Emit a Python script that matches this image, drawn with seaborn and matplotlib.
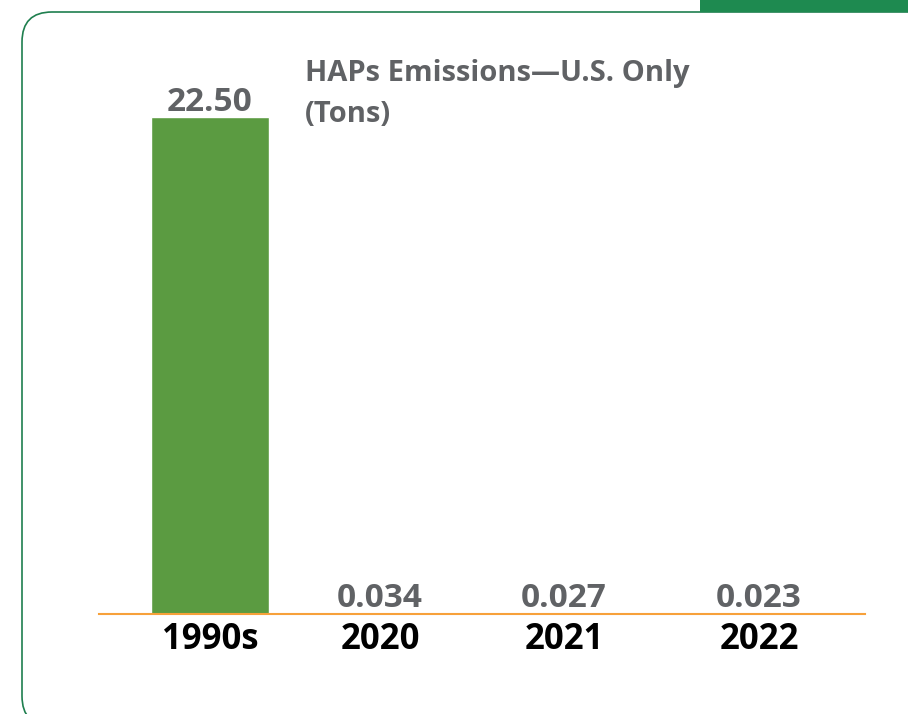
import matplotlib
matplotlib.use("Agg")
import matplotlib.pyplot as plt
from matplotlib.patches import FancyBboxPatch, Rectangle
import pandas as pd
import seaborn as sns

# data
periods = ["1990s", "2020", "2021", "2022"]
emissions = [22.50, 0.034, 0.027, 0.023]
value_labels = ["22.50", "0.034", "0.027", "0.023"]
title_text = "HAPs Emissions\u2014U.S. Only\n(Tons)"

# layout (pixel-like horizontal positions of the bar centres)
bar_pos = [210, 380, 564, 759]

GREEN = "#5b9b41"
GRAY = "#606265"
ORANGE = "#f7a13a"
FRAME = "#1f7f4f"

sns.set_theme(style="white")
plt.rcParams["font.family"] = ["Open Sans", "DejaVu Sans"]

fig = plt.figure(figsize=(9.08, 7.14), dpi=100)

# rounded frame and the green tab at the top right
frame = FancyBboxPatch((22 / 908, -12 / 714), 1.1, (714 - 12 + 12) / 714,
                       boxstyle="round,pad=0,rounding_size=0.033",
                       transform=fig.transFigure, fill=False,
                       edgecolor=FRAME, linewidth=1.2, mutation_aspect=908 / 714)
fig.patches.append(frame)
fig.patches.append(Rectangle((700 / 908, 1 - 12 / 714), 208 / 908, 12 / 714,
                             transform=fig.transFigure, facecolor="#1e8a50",
                             edgecolor="none"))

ax = fig.add_axes([99 / 908, 1 - 614 / 714, 766 / 908, 554 / 714])
df = pd.DataFrame({"pos": bar_pos, "value": emissions})
sns.barplot(data=df, x="pos", y="value", native_scale=True, color=GREEN,
            saturation=1, width=118 / 170, ax=ax)

ax.set_xlim(99, 865)
ax.set_ylim(0, 554 / 22.09)

for p, v, lab in zip(bar_pos, emissions, value_labels):
    ax.annotate(lab, (p, v), xytext=(0, 4.5), textcoords="offset points",
                ha="center", va="baseline", fontsize=24, fontweight="bold",
                color=GRAY)

ax.set_xticks(bar_pos)
ax.set_xticklabels(periods, fontsize=25, fontweight="bold", color="black")
ax.tick_params(axis="x", length=0, pad=6)
ax.set_yticks([])
ax.set_xlabel("")
ax.set_ylabel("")

for s in ["top", "left", "right"]:
    ax.spines[s].set_visible(False)
ax.spines["bottom"].set_color(ORANGE)
ax.spines["bottom"].set_linewidth(1.5)

fig.text(305 / 908, 1 - 59 / 714, title_text, ha="left", va="top",
         fontsize=21, fontweight="bold", color=GRAY, linespacing=1.55)

fig.savefig("out.png", dpi=100)
